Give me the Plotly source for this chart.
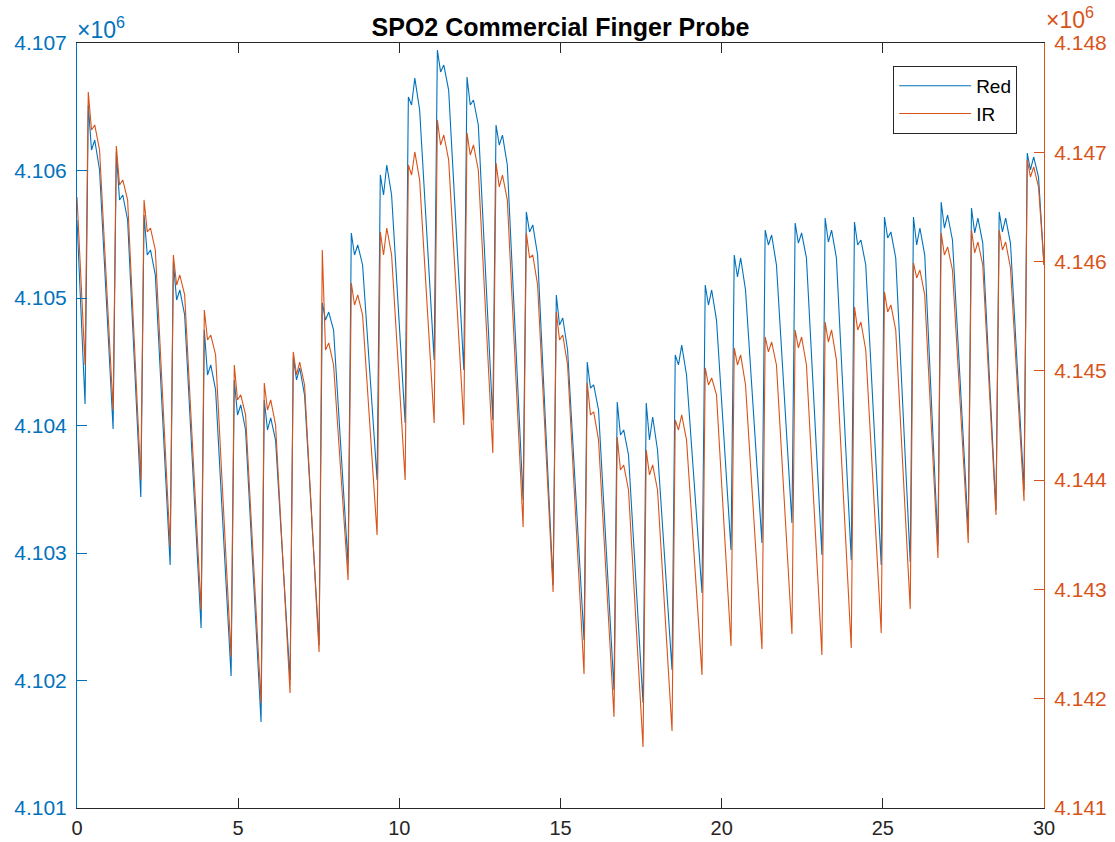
import plotly.graph_objects as go

# ---- data (raw sensor counts) ----
trough_t = [0.25, 1.12, 1.98, 2.89, 3.85, 4.78, 5.71, 6.61, 7.51, 8.41, 9.31,
            10.18, 11.08, 12.0, 12.9, 13.84, 14.77, 15.73, 16.66, 17.56, 18.46,
            19.39, 20.29, 21.25, 22.18, 23.11, 24.02, 24.95, 25.85, 26.71,
            27.65, 28.51, 29.38]

red_trough = [4104169, 4103973, 4103439, 4102906, 4102412, 4102035, 4101675,
              4102004, 4102279, 4102906, 4103573, 4104020, 4104514, 4104435,
              4104043, 4103416, 4102749, 4102318, 4101926, 4101824, 4102082,
              4102686, 4103024, 4103078, 4103235, 4102984, 4102945, 4102906,
              4102930, 4103063, 4103180, 4103337, 4103494]
red_peak = [4106514, 4106145, 4105651, 4105282, 4104749, 4104357, 4104200,
            4104537, 4104961, 4105510, 4105965, 4106576, 4106945, 4106733,
            4106357, 4105675, 4105024, 4104498, 4104184, 4104177, 4104553,
            4105102, 4105337, 4105533, 4105588, 4105627, 4105596, 4105635,
            4105635, 4105753, 4105706, 4105675, 4106137]
red_dip = [4106161, 4105769, 4105337, 4104984, 4104396, 4104082, 4103965,
           4104357, 4104827, 4105337, 4105808, 4106514, 4106773, 4106514,
           4106200, 4105518, 4104788, 4104294, 4103926, 4103886, 4104475,
           4104945, 4105165, 4105416, 4105431, 4105439, 4105416, 4105471,
           4105416, 4105549, 4105510, 4105518, 4106004]
red_hump = [4106239, 4105808, 4105377, 4105063, 4104475, 4104161, 4104059,
            4104451, 4104890, 4105416, 4106043, 4106725, 4106827, 4106553,
            4106278, 4105573, 4104843, 4104318, 4103965, 4104067, 4104631,
            4105063, 4105314, 4105494, 4105510, 4105533, 4105455, 4105518,
            4105549, 4105651, 4105627, 4105627, 4106106]
red_knee = [4106004, 4105612, 4105180, 4104867, 4104279, 4103965, 4103886,
            4104239, 4104749, 4105259, 4105808, 4106475, 4106631, 4106357,
            4106043, 4105337, 4104592, 4104122, 4103769, 4103808, 4104396,
            4104827, 4105063, 4105259, 4105314, 4105314, 4105259, 4105314,
            4105337, 4105455, 4105431, 4105431, 4105949]

ir_trough = [4145054, 4144642, 4144002, 4143389, 4142813, 4142383, 4141962,
             4142053, 4142428, 4143087, 4143499, 4144002, 4144523, 4144505,
             4144249, 4143572, 4142977, 4142227, 4141834, 4141559, 4141705,
             4142218, 4142483, 4142456, 4142593, 4142401, 4142465, 4142602,
             4142822, 4143288, 4143425, 4143682, 4143810]
ir_peak = [4147552, 4147058, 4146564, 4146060, 4145557, 4145054, 4144889,
           4145173, 4146106, 4145804, 4146271, 4146884, 4147296, 4147177,
           4146902, 4146262, 4145539, 4144889, 4144395, 4144276, 4144551,
           4145027, 4145210, 4145310, 4145374, 4145447, 4145585, 4145722,
           4145987, 4146262, 4146289, 4146289, 4146930]
ir_dip = [4147204, 4146701, 4146271, 4145786, 4145283, 4144734, 4144642,
          4144963, 4145191, 4145603, 4146060, 4146792, 4147067, 4146975,
          4146683, 4146033, 4145283, 4144597, 4144093, 4144048, 4144459,
          4144871, 4145054, 4145173, 4145210, 4145264, 4145374, 4145539,
          4145850, 4146060, 4146079, 4146106, 4146774]
ir_hump = [4147250, 4146747, 4146307, 4145877, 4145328, 4144780, 4144734,
           4145081, 4145255, 4145695, 4146307, 4147003, 4147158, 4147067,
           4146792, 4146060, 4145328, 4144624, 4144139, 4144139, 4144597,
           4144935, 4145146, 4145264, 4145310, 4145374, 4145447, 4145603,
           4145923, 4146134, 4146179, 4146179, 4146866]
ir_knee = [4147021, 4146564, 4146106, 4145695, 4145146, 4144597, 4144505,
           4144871, 4145054, 4145511, 4146060, 4146747, 4146930, 4146838,
           4146564, 4145786, 4145054, 4144368, 4143910, 4143910, 4144368,
           4144780, 4144871, 4145054, 4145054, 4145100, 4145191, 4145374,
           4145695, 4145923, 4145969, 4145941, 4146683]

t_first, red_first, ir_first = 0.0, 4105612, 4146591
t_last, red_last, ir_last = 30.0, 4105259, 4145969

# offsets (s) of the landmarks of each beat after its trough
PEAK_DT, DIP_DT, HUMP_DT, KNEE_DT = 0.10, 0.20, 0.30, 0.45

x_ticks = [0, 5, 10, 15, 20, 25, 30]
red_ticks = [4101000, 4102000, 4103000, 4104000, 4105000, 4106000, 4107000]
ir_ticks = [4141000, 4142000, 4143000, 4144000, 4145000, 4146000, 4147000, 4148000]


def build(first, last, trough, peak, dip, hump, knee):
    t, v = [t_first], [first]
    for i, tt in enumerate(trough_t):
        t += [tt, tt + PEAK_DT, tt + DIP_DT, tt + HUMP_DT, tt + KNEE_DT]
        v += [trough[i], peak[i], dip[i], hump[i], knee[i]]
    t.append(t_last)
    v.append(last)
    return t, v


BLUE = "#0072BD"
ORANGE = "#D95319"
DARK = "#262626"
FONT = "Liberation Sans, Arial, Helvetica, sans-serif"

rt, rv = build(red_first, red_last, red_trough, red_peak, red_dip, red_hump, red_knee)
it, iv = build(ir_first, ir_last, ir_trough, ir_peak, ir_dip, ir_hump, ir_knee)

fig = go.Figure()
fig.add_trace(go.Scatter(x=rt, y=rv, mode="lines", name="Red",
                         line=dict(color=BLUE, width=1.1), yaxis="y"))
fig.add_trace(go.Scatter(x=it, y=iv, mode="lines", name="IR",
                         line=dict(color=ORANGE, width=1.1), yaxis="y2"))

fig.update_layout(
    width=1115, height=842,
    margin=dict(l=77, r=71, t=43, b=34, autoexpand=False),
    paper_bgcolor="white", plot_bgcolor="white",
    font=dict(family=FONT, size=21, color=DARK),
    title=dict(text="<b>SPO2 Commercial Finger Probe</b>", x=0.5, xref="paper",
               xanchor="center", y=1 - 27 / 842, yref="container", yanchor="middle",
               font=dict(size=25, color="#000000", family=FONT)),
    xaxis=dict(range=[0, 30], tickvals=x_ticks, ticks="inside", ticklen=10,
               tickcolor=DARK, showline=True, linecolor=DARK, linewidth=1,
               mirror="ticks", showgrid=False, zeroline=False,
               ticklabelstandoff=2, automargin=False,
               tickfont=dict(size=20, color=DARK)),
    yaxis=dict(range=[red_ticks[0], red_ticks[-1]], tickvals=red_ticks,
               ticktext=[f"{v / 1e6:.3f}" for v in red_ticks],
               ticks="inside", ticklen=10, tickcolor=BLUE, showline=True,
               linecolor=BLUE, linewidth=1, showgrid=False, zeroline=False,
               ticklabelstandoff=5, automargin=False,
               tickfont=dict(size=21, color=BLUE)),
    yaxis2=dict(range=[ir_ticks[0], ir_ticks[-1]], tickvals=ir_ticks,
                ticktext=[f"{v / 1e6:.3f}" for v in ir_ticks],
                overlaying="y", side="right", ticks="inside", ticklen=10,
                tickcolor=ORANGE, showline=True, linecolor=ORANGE, linewidth=1,
                showgrid=False, zeroline=False, ticklabelstandoff=5,
                automargin=False,
                tickfont=dict(size=21, color=ORANGE)),
    legend=dict(x=0.844, y=0.970, xanchor="left", yanchor="top",
                bgcolor="white", bordercolor=DARK, borderwidth=1,
                font=dict(size=19, color="#000000", family=FONT),
                itemwidth=72, tracegroupgap=0),
    showlegend=True,
    annotations=[
        dict(text="×10<sup>6</sup>", xref="paper", yref="paper", x=-0.002, y=0.997,
             xanchor="left", yanchor="bottom", showarrow=False,
             font=dict(size=23, color=BLUE, family=FONT)),
        dict(text="×10<sup>6</sup>", xref="paper", yref="paper", x=1.0,
             y=1.0 + 8 / 765, xanchor="left", yanchor="bottom", showarrow=False,
             font=dict(size=23, color=ORANGE, family=FONT)),
    ],
)

fig.write_html("out.html")
